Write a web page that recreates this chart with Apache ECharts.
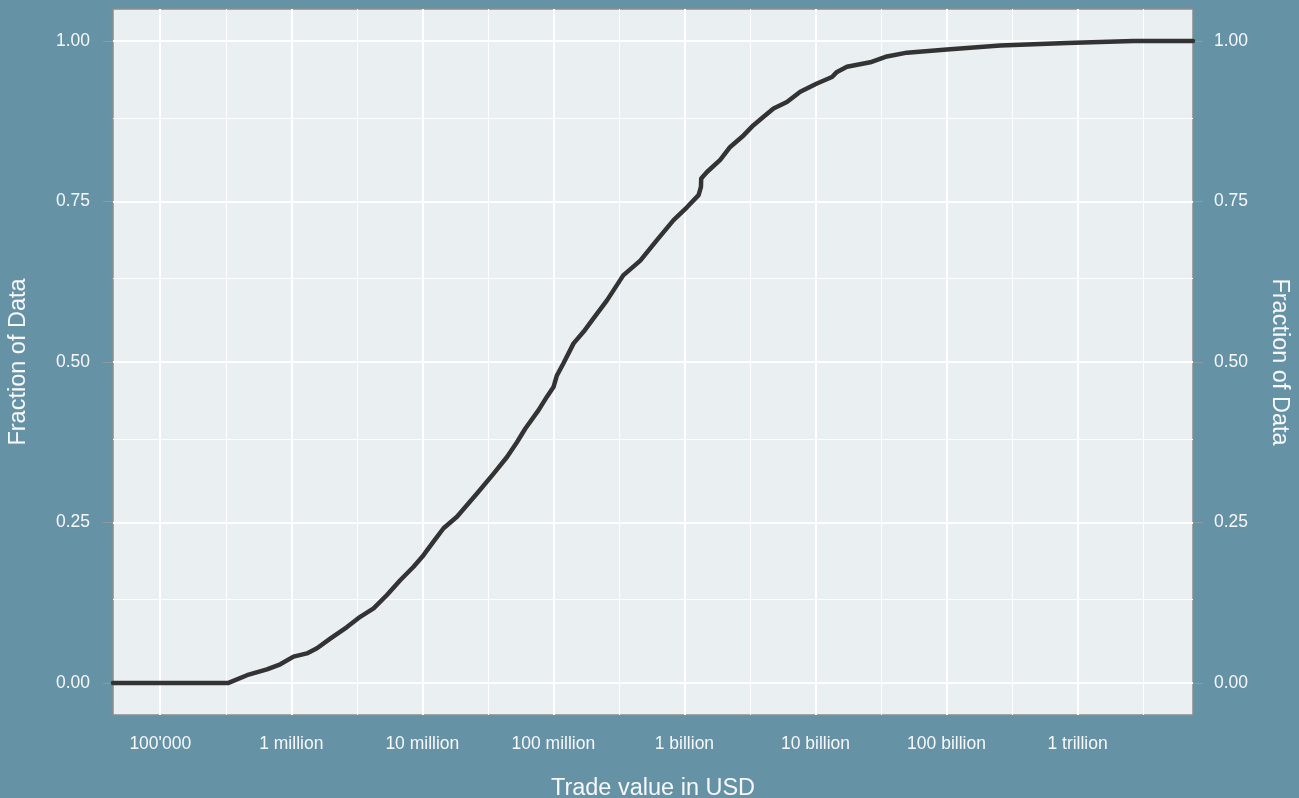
<!DOCTYPE html>
<html>
<head>
<meta charset="utf-8">
<title>Trade value ECDF</title>
<script src="https://cdn.jsdelivr.net/npm/echarts@6/dist/echarts.min.js"></script>
<style>
  html, body { margin: 0; padding: 0; background: #6692a6; }
  #chart { width: 1299px; height: 798px; }
</style>
</head>
<body>
<div id="chart"></div>
<script>
// Empirical cumulative distribution of trade values (USD, log scale)
const tradeValueUSD = [
  332000, 459000, 652000, 824000,
  1.040e6, 1.315e6, 1.570e6, 1.982e6, 2.661e6, 3.357e6, 4.246e6, 5.370e6, 6.776e6, 8.570e6,
  1.021e7, 1.216e7, 1.452e7, 1.837e7, 2.612e7, 3.499e7, 4.426e7, 5.272e7, 6.095e7, 7.709e7, 8.933e7,
  1.002e8, 1.064e8, 1.194e8, 1.426e8, 1.698e8, 2.023e8, 2.564e8, 3.412e8, 4.603e8, 6.166e8, 8.260e8,
  1.045e9, 1.282e9, 1.337e9, 1.343e9, 1.486e9, 1.875e9, 2.234e9, 2.825e9, 3.365e9, 4.018e9, 4.786e9, 6.053e9, 7.656e9,
  1.026e10, 1.337e10, 1.459e10, 1.738e10, 2.618e10, 3.508e10, 4.989e10,
  1.007e11, 2.570e11, 8.299e11, 2.673e12
];
const fractionOfData = [
  0.000, 0.012, 0.021, 0.029,
  0.041, 0.046, 0.054, 0.069, 0.087, 0.103, 0.116, 0.137, 0.160, 0.181,
  0.199, 0.220, 0.241, 0.259, 0.295, 0.326, 0.352, 0.375, 0.396, 0.425, 0.446,
  0.461, 0.479, 0.498, 0.529, 0.547, 0.568, 0.596, 0.635, 0.658, 0.690, 0.721,
  0.741, 0.760, 0.773, 0.786, 0.796, 0.815, 0.835, 0.853, 0.869, 0.882, 0.895, 0.905, 0.921,
  0.934, 0.944, 0.952, 0.960, 0.967, 0.976, 0.982,
  0.987, 0.993, 0.997, 1.000
];

// x axis: decades of trade value
const xTickValues = [1e5, 1e6, 1e7, 1e8, 1e9, 1e10, 1e11, 1e12];
const xTickLabels = ["100'000", "1 million", "10 million", "100 million",
                     "1 billion", "10 billion", "100 billion", "1 trillion"];
const xLimits = [43600, 7.6e12];

// y axis
const yTickValues = [0, 0.25, 0.5, 0.75, 1];
const yLimits = [-0.05, 1.05];

const lg = Math.log10;
const xMajor = xTickValues.map(lg);
const xMinor = xMajor.map(v => v + 0.5);
const yMinor = yTickValues.slice(0, -1).map((v, i) => (v + yTickValues[i + 1]) / 2);

// the ECDF line runs from the left edge of the panel to the right edge
const lineData = [[lg(xLimits[0]), 0]]
  .concat(tradeValueUSD.map((v, i) => [lg(v), fractionOfData[i]]))
  .concat([[lg(xLimits[1]), 1]]);

const textColor = '#f7f8f9';
const fontFamily = '"Liberation Sans", Arial, Helvetica, sans-serif';
const tickColor = '#8f9a9f';

const majorStyle = { color: '#ffffff', width: 2, type: 'solid' };
const minorStyle = { color: '#ffffff', width: 1, type: 'solid' };

const gridLines = []
  .concat(xMinor.filter(v => v < lg(xLimits[1])).map(v => ({ xAxis: v, lineStyle: minorStyle })))
  .concat(yMinor.map(v => ({ yAxis: v, lineStyle: minorStyle })))
  .concat(xMajor.map(v => ({ xAxis: v, lineStyle: majorStyle })))
  .concat(yTickValues.map(v => ({ yAxis: v, lineStyle: majorStyle })));

const labelMap = {};
xMajor.forEach((v, i) => { labelMap[v.toFixed(3)] = xTickLabels[i]; });

function yAxisFor(position, nameRotate, nameGap, labelMargin) {
  return {
    type: 'value',
    position: position,
    min: yLimits[0],
    max: yLimits[1],
    name: 'Fraction of Data',
    nameLocation: 'middle',
    nameRotate: nameRotate,
    nameGap: nameGap,
    nameTextStyle: { color: textColor, fontSize: 23.5, fontFamily: fontFamily },
    axisLine: { show: false },
    axisTick: {
      show: true, length: 10, customValues: yTickValues,
      lineStyle: { color: tickColor, width: 1 }
    },
    axisLabel: {
      customValues: yTickValues,
      margin: labelMargin,
      color: textColor, fontSize: 17.5, fontFamily: fontFamily,
      formatter: v => Number(v).toFixed(2)
    },
    splitLine: { show: false }
  };
}

const chart = echarts.init(document.getElementById('chart'), null, { renderer: 'canvas' });
chart.setOption({
  animation: false,
  backgroundColor: '#6692a6',
  grid: {
    left: 113, top: 9, width: 1080, height: 706,
    containLabel: false,
    outerBoundsMode: 'none',
    show: true,
    backgroundColor: '#eaeff2',
    borderColor: '#8c8c8c',
    borderWidth: 1.5
  },
  xAxis: {
    type: 'value',
    min: lg(xLimits[0]),
    max: lg(xLimits[1]),
    name: 'Trade value in USD',
    nameLocation: 'middle',
    nameGap: 62,
    nameTextStyle: { color: textColor, fontSize: 23.5, fontFamily: fontFamily },
    axisLine: { show: false },
    axisTick: {
      show: true, length: 10, customValues: xMajor,
      lineStyle: { color: tickColor, width: 1 }
    },
    axisLabel: {
      customValues: xMajor,
      margin: 20,
      color: textColor, fontSize: 17.5, fontFamily: fontFamily,
      formatter: v => labelMap[Number(v).toFixed(3)] || ''
    },
    splitLine: { show: false }
  },
  yAxis: [
    yAxisFor('left', 90, 82, 23),
    yAxisFor('right', -90, 74, 21)
  ],
  series: [
    {
      name: 'grid',
      type: 'line',
      data: [],
      silent: true,
      z: 1,
      markLine: {
        silent: true,
        z: 1,
        symbol: ['none', 'none'],
        label: { show: false },
        emphasis: { disabled: true },
        animation: false,
        data: gridLines
      }
    },
    {
      name: 'ECDF',
      type: 'line',
      data: lineData,
      showSymbol: false,
      symbol: 'none',
      z: 5,
      lineStyle: { color: '#333333', width: 4.5, join: 'round', cap: 'round' }
    }
  ]
});
</script>
</body>
</html>
